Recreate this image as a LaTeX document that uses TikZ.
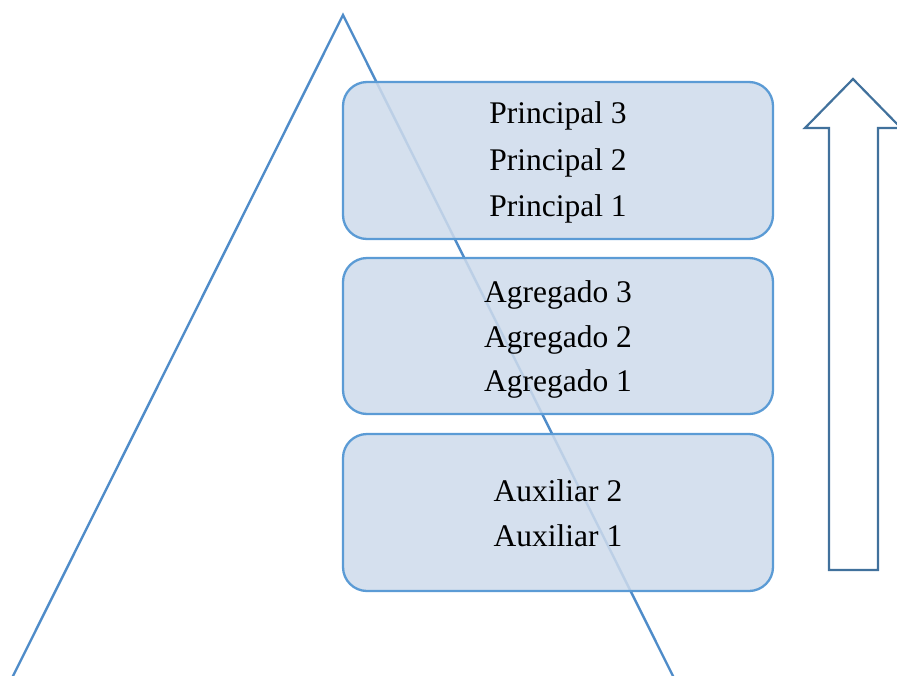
\documentclass[tikz,border=0pt]{standalone}
\usepackage{fontspec}
\setmainfont{Liberation Serif}
\begin{document}
\begin{tikzpicture}[x=1pt,y=-1pt,
  legline/.style={draw=trileg,line width=2.4pt,line join=miter},
  tier/.style={draw=tierline,fill=tierfill,fill opacity=0.86,line width=2.3pt,
    rounded corners=24pt,minimum width=430pt,inner sep=0pt},
  tiertext/.style={align=center,inner sep=0pt},
  upshape/.style={draw=arrowline,line width=2.2pt,line join=miter}]
  \definecolor{trileg}{HTML}{4F8CC9}
  \definecolor{tierline}{HTML}{5B9BD5}
  \definecolor{tierfill}{HTML}{CEDBEB}
  \definecolor{arrowline}{HTML}{41719C}
  \useasboundingbox (0,0) rectangle (897,675);

  % pyramid outline
  \coordinate (apex) at (343,15);
  \coordinate (baseL) at (10,682);
  \coordinate (baseR) at (676,682);
  \draw[legline] (baseL) -- (apex) -- (baseR);

  % ranked tiers
  \node[tier,minimum height=157pt] (top) at (558,160.5) {};
  \node[tier,minimum height=156pt] (mid) at (558,336) {};
  \node[tier,minimum height=157pt] (low) at (558,512.5) {};
  \node[tiertext,font=\fontsize{31.5}{46.5}\selectfont] (topt) at ([yshift=-2pt]top.center)
    {Principal 3\\Principal 2\\Principal 1};
  \node[tiertext,font=\fontsize{31.5}{44.5}\selectfont] (midt) at ([yshift=-3.5pt]mid.center)
    {Agregado 3\\Agregado 2\\Agregado 1};
  \node[tiertext,font=\fontsize{31.5}{45}\selectfont] (lowt) at ([yshift=-1pt]low.center)
    {Auxiliar 2\\Auxiliar 1};

  % upward arrow
  \draw[upshape] (853,79) -- (805,128) -- (829,128) -- (829,570)
    -- (878,570) -- (878,128) -- (901,128) -- cycle;
\end{tikzpicture}
\end{document}
